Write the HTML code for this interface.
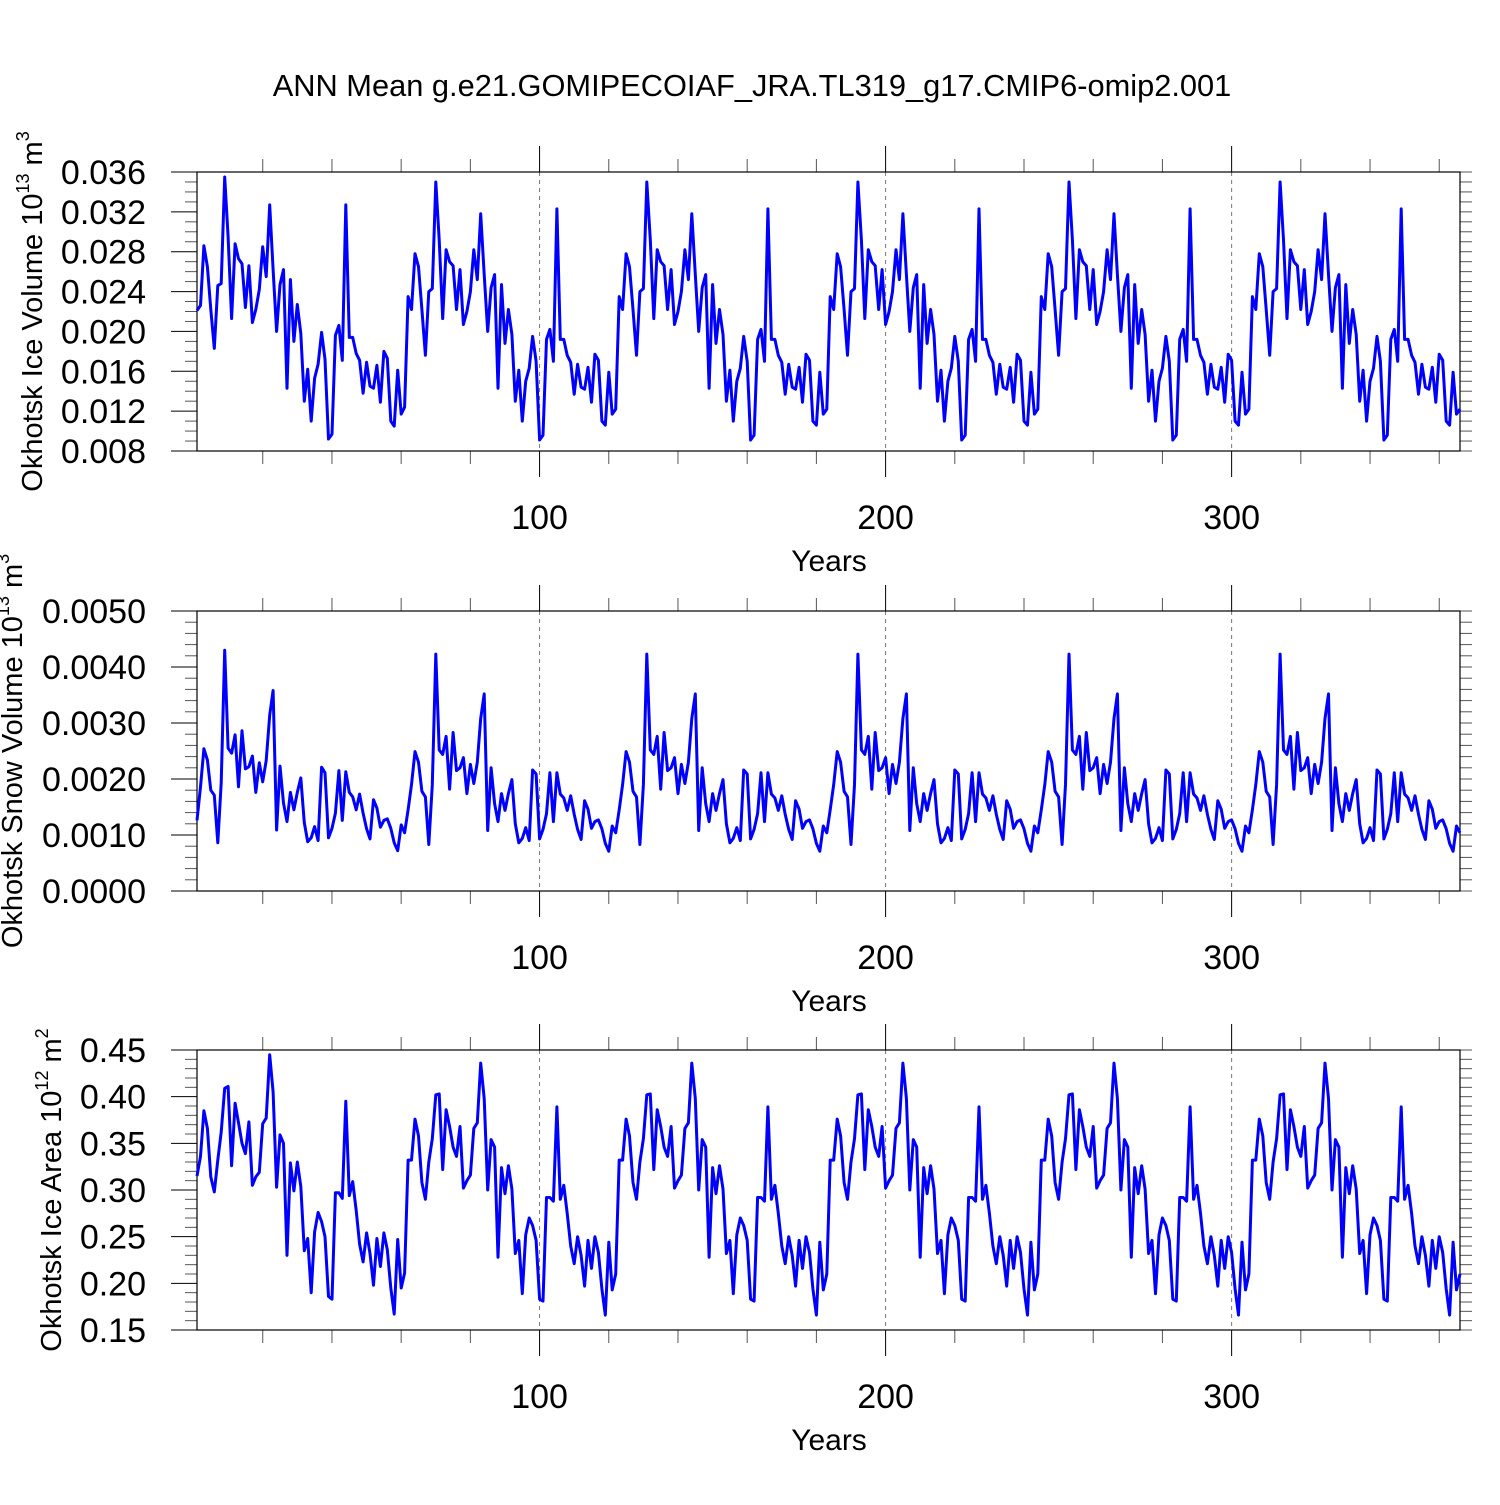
<!DOCTYPE html>
<html><head><meta charset="utf-8"><style>
html,body{margin:0;padding:0;background:#fff;}
svg text{font-family:"Liberation Sans",Helvetica,Arial,sans-serif;fill:#000;}
</style></head><body>
<svg id="chart" width="1500" height="1500" viewBox="0 0 1500 1500" xmlns="http://www.w3.org/2000/svg">
<rect width="1500" height="1500" fill="#fff"/>
<text x="752" y="96" font-size="30.8" text-anchor="middle">ANN Mean g.e21.GOMIPECOIAF_JRA.TL319_g17.CMIP6-omip2.001</text>
</svg>
<script>
// ---- data (one JRA forcing cycle of 61 years, repeated 6 times) ----
const iceVolCycle1 = [0.0221,0.0226,0.0286,0.0265,0.0222,0.0183,0.0246,0.0248,0.0355,0.0295,0.0213,0.0288,0.0273,0.0268,0.0224,0.0266,0.0209,0.0222,0.0242,0.0285,0.0255,0.0327,0.0262,0.0200,0.0247,0.0262,0.0143,0.0252,0.0190,0.0227,0.0198,0.0130,0.0162,0.0110,0.0153,0.0167,0.0199,0.0172,0.0092,0.0097,0.0196,0.0206,0.0171,0.0327,0.0194,0.0194,0.0178,0.0171,0.0138,0.0169,0.0145,0.0143,0.0166,0.0129,0.0180,0.0173,0.0110,0.0105,0.0161,0.0117,0.0124];
const iceVolCycleN = [0.0235,0.0222,0.0278,0.0265,0.0222,0.0176,0.0240,0.0243,0.0350,0.0292,0.0213,0.0282,0.0270,0.0266,0.0222,0.0262,0.0207,0.0220,0.0240,0.0282,0.0252,0.0318,0.0257,0.0200,0.0244,0.0257,0.0143,0.0247,0.0188,0.0222,0.0197,0.0130,0.0161,0.0110,0.0150,0.0163,0.0195,0.0170,0.0091,0.0096,0.0192,0.0202,0.0170,0.0323,0.0192,0.0192,0.0176,0.0169,0.0137,0.0167,0.0144,0.0142,0.0164,0.0129,0.0177,0.0171,0.0110,0.0106,0.0159,0.0117,0.0122];
const snowVolCycle1 = [0.00126,0.00186,0.00254,0.00234,0.00180,0.00171,0.00086,0.00193,0.00430,0.00255,0.00246,0.00279,0.00186,0.00286,0.00218,0.00222,0.00241,0.00176,0.00229,0.00195,0.00233,0.00314,0.00358,0.00109,0.00223,0.00157,0.00124,0.00176,0.00145,0.00176,0.00202,0.00122,0.00088,0.00095,0.00115,0.00090,0.00221,0.00211,0.00095,0.00112,0.00139,0.00215,0.00126,0.00213,0.00176,0.00168,0.00145,0.00173,0.00139,0.00111,0.00093,0.00163,0.00148,0.00114,0.00126,0.00129,0.00112,0.00086,0.00072,0.00118,0.00104];
const snowVolCycleN = [0.00145,0.00190,0.00249,0.00230,0.00178,0.00168,0.00083,0.00190,0.00423,0.00252,0.00244,0.00276,0.00182,0.00283,0.00215,0.00220,0.00238,0.00174,0.00226,0.00192,0.00230,0.00308,0.00352,0.00108,0.00220,0.00156,0.00124,0.00174,0.00144,0.00174,0.00199,0.00120,0.00086,0.00094,0.00113,0.00090,0.00216,0.00209,0.00093,0.00110,0.00138,0.00211,0.00124,0.00211,0.00173,0.00166,0.00144,0.00170,0.00137,0.00110,0.00092,0.00161,0.00146,0.00112,0.00124,0.00127,0.00111,0.00085,0.00071,0.00116,0.00104];
const areaCycle1 = [0.315,0.336,0.385,0.366,0.314,0.298,0.332,0.362,0.409,0.411,0.326,0.393,0.372,0.350,0.339,0.373,0.305,0.314,0.319,0.371,0.377,0.445,0.405,0.303,0.359,0.350,0.230,0.329,0.299,0.330,0.304,0.235,0.248,0.190,0.255,0.276,0.266,0.250,0.186,0.183,0.297,0.297,0.291,0.395,0.294,0.309,0.278,0.242,0.223,0.254,0.232,0.198,0.248,0.218,0.254,0.236,0.195,0.167,0.247,0.195,0.211];
const areaCycleN = [0.332,0.332,0.376,0.358,0.308,0.290,0.330,0.355,0.402,0.403,0.322,0.386,0.368,0.346,0.336,0.368,0.302,0.310,0.316,0.366,0.372,0.436,0.398,0.300,0.354,0.346,0.228,0.324,0.296,0.326,0.301,0.232,0.246,0.189,0.252,0.270,0.262,0.246,0.183,0.181,0.292,0.292,0.288,0.389,0.290,0.305,0.275,0.240,0.221,0.250,0.230,0.197,0.246,0.216,0.250,0.233,0.194,0.166,0.244,0.193,0.210];
const iceVolume = [].concat(iceVolCycle1, iceVolCycleN, iceVolCycleN, iceVolCycleN, iceVolCycleN, iceVolCycleN);
const snowVolume = [].concat(snowVolCycle1, snowVolCycleN, snowVolCycleN, snowVolCycleN, snowVolCycleN, snowVolCycleN);
const iceArea = [].concat(areaCycle1, areaCycleN, areaCycleN, areaCycleN, areaCycleN, areaCycleN);
const xTickLabels = [100, 200, 300];
const iceVolTicks = ["0.008","0.012","0.016","0.020","0.024","0.028","0.032","0.036"];
const snowVolTicks = ["0.0000","0.0010","0.0020","0.0030","0.0040","0.0050"];
const areaTicks = ["0.15","0.20","0.25","0.30","0.35","0.40","0.45"];

const NS = "http://www.w3.org/2000/svg";
const svg = document.getElementById("chart");
const X0 = 197, X1 = 1460, YEAR0 = 1, YEAR1 = 366;
function xScale(yr){ return X0 + (yr - YEAR0) * (X1 - X0) / (YEAR1 - YEAR0); }
function mk(tag, attrs, parent){
  const e = document.createElementNS(NS, tag);
  for (const k in attrs) e.setAttribute(k, attrs[k]);
  (parent || svg).appendChild(e);
  return e;
}

function panel(cfg){
  const g = mk("g", {});
  
  
  const top = cfg.top, bot = cfg.bot;
  const yScale = v => bot - (v - cfg.ymin) * (bot - top) / (cfg.ymax - cfg.ymin);
  xTickLabels.forEach(v => {
    const l = mk("line", {x1: xScale(v), x2: xScale(v), y1: top, y2: bot, stroke: "#777", "stroke-width": 1, "stroke-dasharray": "4,4"}, g);
    
    
  });
  for (let v = 20; v <= 360; v += 20) {
    const major = v % 100 === 0;
    const len = major ? 26 : 13;
    mk("line", {x1: xScale(v), x2: xScale(v), y1: top, y2: top - len, stroke: major ? "#000" : "#555", "stroke-width": 1}, g);
    mk("line", {x1: xScale(v), x2: xScale(v), y1: bot, y2: bot + len, stroke: major ? "#000" : "#555", "stroke-width": 1}, g);
  }
  xTickLabels.forEach(v => {
    const t = mk("text", {x: xScale(v), y: bot + 78, "font-size": 34, "text-anchor": "middle"}, g);
    t.textContent = String(v);
    
    
  });
  const xt = mk("text", {x: 829, y: bot + 120, "font-size": 30, "text-anchor": "middle"}, g);
  xt.textContent = "Years";
  
  
  const nMinor = Math.round((cfg.ymax - cfg.ymin) / cfg.minor);
  for (let i = 0; i <= nMinor; i++) {
    const v = cfg.ymin + i * cfg.minor;
    const y = yScale(v);
    const major = i % cfg.per === 0;
    const len = major ? 26 : 12;
    mk("line", {x1: X0, x2: X0 - len, y1: y, y2: y, stroke: major ? "#000" : "#555", "stroke-width": 1}, g);
    mk("line", {x1: X1, x2: X1 + 12, y1: y, y2: y, stroke: "#555", "stroke-width": 1}, g);
  }
  cfg.ticks.forEach((lab, i) => {
    const v = cfg.ymin + i * cfg.minor * cfg.per;
    const t = mk("text", {x: 146, y: yScale(v) + 12, "font-size": 34, "text-anchor": "end"}, g);
    t.textContent = lab;
    
    
  });
  const yt = mk("text", {x: 0, y: 0, "font-size": 29, "text-anchor": "middle", transform: `translate(${cfg.titleX},${(top+bot)/2}) rotate(-90)`}, g);
  
  
  yt.innerHTML = cfg.title + ' 10<tspan dy="-13" font-size="18">' + cfg.exp + '</tspan><tspan dy="13"> m</tspan><tspan dy="-13" font-size="18">' + cfg.unitExp + '</tspan>';
  const fr = mk("rect", {x: X0, y: top, width: X1 - X0, height: bot - top, fill: "none", stroke: "#000", "stroke-width": 1.2}, g);
  
  
  const pts = cfg.data.map((v, i) => xScale(YEAR0 + i).toFixed(1) + "," + yScale(v).toFixed(1)).join(" ");
  const pl = mk("polyline", {points: pts, fill: "none", stroke: "#0000ff", "stroke-width": 3, "stroke-linejoin": "round"}, g);
  
  
}

panel({name: "ice-volume", top: 172, bot: 451, ymin: 0.008, ymax: 0.036, minor: 0.001, per: 4, ticks: iceVolTicks, data: iceVolume, title: "Okhotsk Ice Volume", exp: "13", unitExp: "3", titleX: 42});
panel({name: "snow-volume", top: 611, bot: 891, ymin: 0, ymax: 0.005, minor: 0.0002, per: 5, ticks: snowVolTicks, data: snowVolume, title: "Okhotsk Snow Volume", exp: "13", unitExp: "3", titleX: 22});
panel({name: "ice-area", top: 1050, bot: 1330, ymin: 0.15, ymax: 0.45, minor: 0.01, per: 5, ticks: areaTicks, data: iceArea, title: "Okhotsk Ice Area", exp: "12", unitExp: "2", titleX: 61});
</script>
</body></html>
